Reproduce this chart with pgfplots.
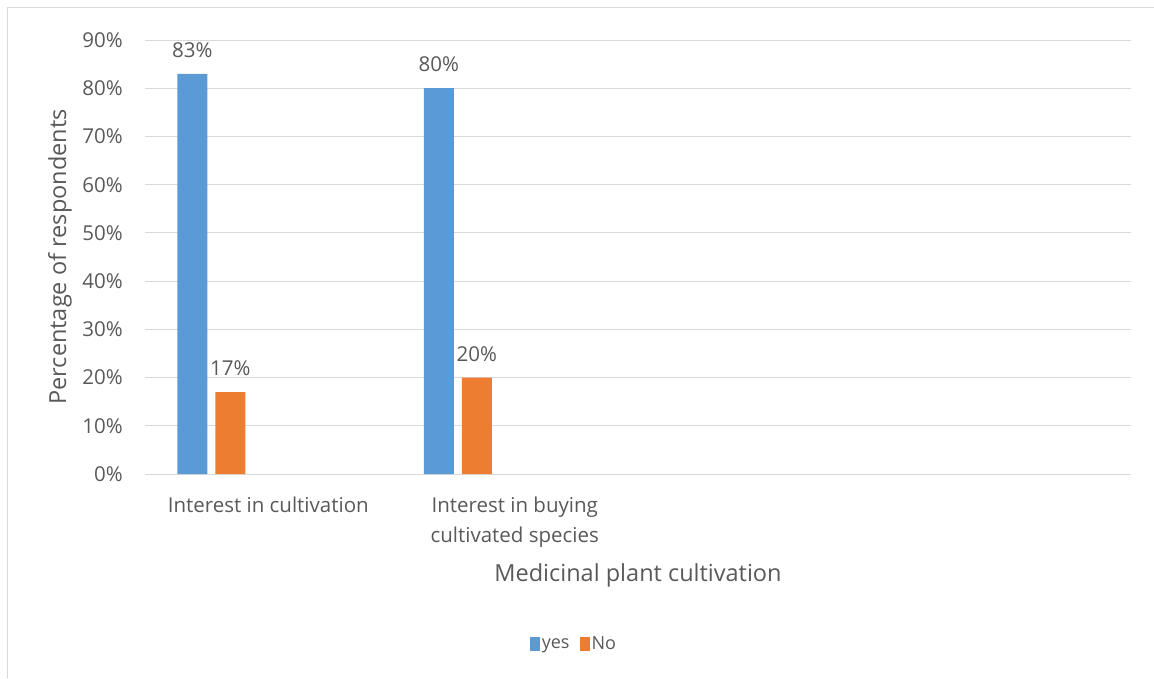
\documentclass[border=0pt]{standalone}
\usepackage{pgfplots}
\pgfplotsset{compat=1.18}
\usepackage{fontspec}
\setmainfont{Open Sans}
\definecolor{cblue}{HTML}{5B9BD5}
\definecolor{corange}{HTML}{ED7D31}
\definecolor{gridc}{HTML}{D9D9D9}
\definecolor{txt}{HTML}{595959}
\pgfplotsset{
  sqlegend/.style={legend image code/.code={\fill[##1] (0pt,-7pt) rectangle (10pt,7pt);}}
}
\begin{document}
\begin{tikzpicture}
\path[use as bounding box] (0,0) rectangle (1154pt,678pt);
\draw[gridc, line width=1pt] (7pt,0pt) -- (7pt,670pt) -- (1154pt,670pt);
\begin{axis}[
  at={(145pt,204pt)}, anchor=south west,
  width=986pt, height=434pt, scale only axis,
  /pgf/number format/assume math mode=true,
  ybar, bar width=0.122,
  xmin=-0.5, xmax=3.5, ymin=0, ymax=90,
  ytick={0,10,...,90},
  yticklabel={\pgfmathprintnumber{\tick}\%},
  xtick={0,1},
  xticklabels={Interest in cultivation, {Interest in buying\\cultivated species}},
  xticklabel style={align=center, text=txt, font=\fontsize{20.5}{30}\selectfont, anchor=north, inner sep=0pt, yshift=-23pt},
  yticklabel style={text=txt, font=\fontsize{20.5}{24}\selectfont, anchor=east, inner sep=0pt, xshift=-22pt},
  major tick length=0pt,
  axis line style={draw=none},
  ymajorgrids, grid style={gridc, line width=1pt},
  xlabel={Medicinal plant cultivation},
  ylabel={Percentage of respondents},
  every axis x label/.style={at={(rel axis cs:0.5,-0.2327)}, anchor=center, text=txt, font=\fontsize{23.5}{28}\selectfont},
  every axis y label/.style={at={(rel axis cs:-0.0862,0.5)}, rotate=90, anchor=center, text=txt, font=\fontsize{23.5}{28}\selectfont},
  nodes near coords={\pgfmathprintnumber{\pgfplotspointmeta}\%},
  every node near coord/.append style={text=txt, font=\fontsize{20.5}{24}\selectfont, inner sep=0pt, yshift=16pt},
  legend style={at={(rel axis cs:0.435,-0.392)}, anchor=center, draw=none, fill=none, legend columns=2,
    font=\fontsize{18}{21}\selectfont, text=txt,
    /tikz/every even column/.append style={column sep=8pt}},
  legend cell align=left,
]
\addplot[fill=cblue, draw=none, bar shift=-0.308, sqlegend] coordinates {(0,83) (1,80)};
\addplot[fill=corange, draw=none, bar shift=-0.154, sqlegend] coordinates {(0,17) (1,20)};
\legend{yes, No}
\end{axis}
\end{tikzpicture}
\end{document}
